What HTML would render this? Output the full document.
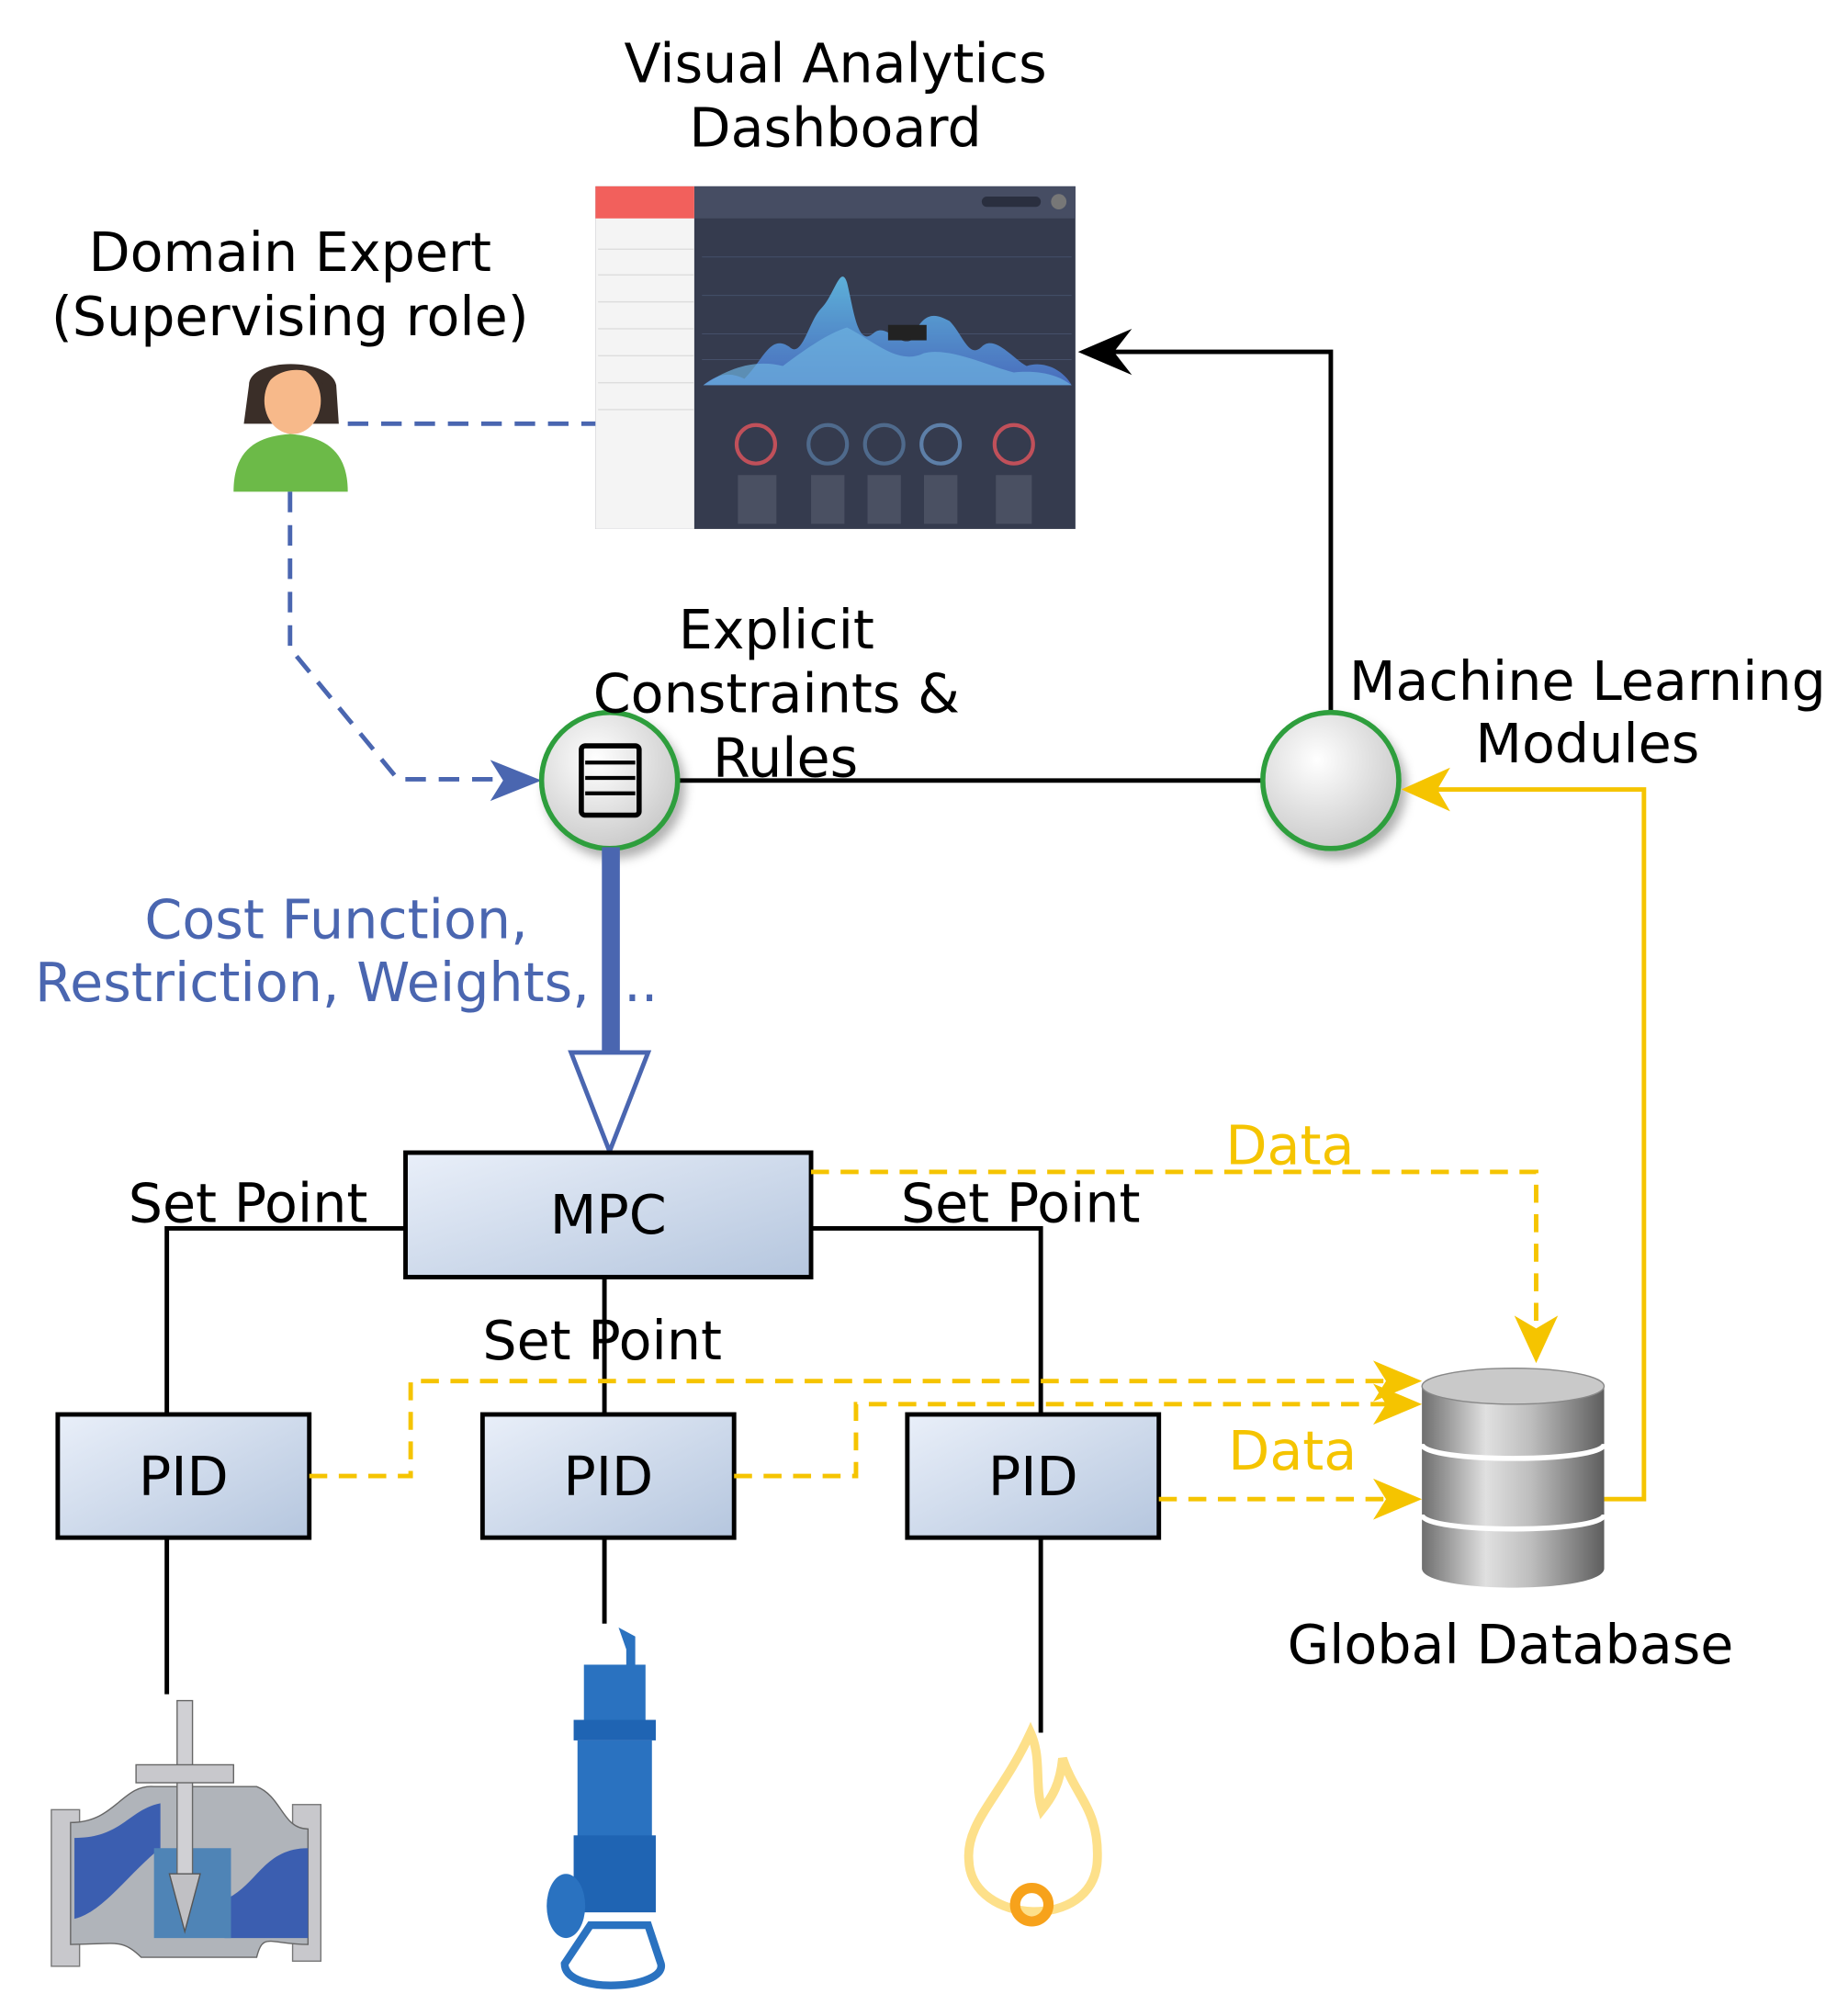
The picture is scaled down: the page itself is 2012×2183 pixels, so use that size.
<!DOCTYPE html>
<html><head><meta charset="utf-8"><style>
html,body{margin:0;padding:0;background:#fff;}
svg{display:block;}
text{font-family:"DejaVu Sans","Liberation Sans",sans-serif;}
</style></head><body>
<svg width="2012" height="2183" viewBox="0 0 1440 1562" xmlns="http://www.w3.org/2000/svg">
<defs>
<linearGradient id="box" x1="0" y1="0" x2="1" y2="1"><stop offset="0" stop-color="#e9eff9"/><stop offset="1" stop-color="#b5c6de"/></linearGradient>
<radialGradient id="circ" cx="0.4" cy="0.35" r="0.7"><stop offset="0" stop-color="#ffffff"/><stop offset="1" stop-color="#c8c8c8"/></radialGradient>
<linearGradient id="db" x1="0" y1="0" x2="1" y2="0"><stop offset="0" stop-color="#6e6e6e"/><stop offset="0.35" stop-color="#e0e0e0"/><stop offset="0.6" stop-color="#bdbdbd"/><stop offset="1" stop-color="#5e5e5e"/></linearGradient>
<linearGradient id="wave" x1="0" y1="0" x2="0" y2="1"><stop offset="0" stop-color="#5fb6e0"/><stop offset="1" stop-color="#4a6fc2"/></linearGradient>
<filter id="sh" x="-30%" y="-30%" width="160%" height="160%"><feDropShadow dx="4" dy="6" stdDeviation="4" flood-color="#000" flood-opacity="0.3"/></filter>
</defs>

<!-- dashboard -->
<rect x="464" y="145" width="374" height="267" fill="#353b4e"/>
<rect x="541" y="145" width="297" height="25" fill="#464d63"/>
<rect x="464" y="145" width="77" height="267" fill="#f4f4f4"/>
<rect x="464" y="145" width="77" height="25" fill="#f2605c"/>
<g stroke="#ddd" stroke-width="1">
<line x1="466" y1="194" x2="541" y2="194"/><line x1="466" y1="214" x2="541" y2="214"/><line x1="466" y1="235" x2="541" y2="235"/><line x1="466" y1="256" x2="541" y2="256"/><line x1="466" y1="277" x2="541" y2="277"/><line x1="466" y1="298" x2="541" y2="298"/><line x1="466" y1="319" x2="541" y2="319"/>
</g>
<rect x="765" y="153" width="46" height="8" rx="4" fill="#2a2f3f"/>
<circle cx="825" cy="157" r="6" fill="#777"/>
<g stroke="#45506a" stroke-width="0.7">
<line x1="547" y1="200" x2="835" y2="200"/><line x1="547" y1="230" x2="835" y2="230"/><line x1="547" y1="260" x2="835" y2="260"/><line x1="547" y1="280" x2="835" y2="280"/>
</g>
<path d="M548 300 C560 290,570 290,580 295 C595 280,600 260,615 270 C625 280,630 250,640 240 C650 230,655 205,660 220 C665 240,668 270,680 260 C690 250,700 270,710 265 C720 240,730 245,740 250 C750 260,755 280,765 270 C775 260,790 280,800 285 C815 280,830 290,835 300 Z" fill="url(#wave)" opacity="0.95"/>
<path d="M548 300 C570 285,590 280,610 285 C630 270,645 260,660 255 C680 265,700 285,720 275 C740 270,770 285,790 290 C810 288,825 292,835 300 Z" fill="#6db2df" opacity="0.7"/>
<rect x="692" y="253" width="30" height="12" fill="#222"/>
<g fill="none" stroke-width="3">
<circle cx="589" cy="346" r="15" stroke="#c0505a"/><circle cx="645" cy="346" r="15" stroke="#4f6a8c"/><circle cx="689" cy="346" r="15" stroke="#4f6a8c"/><circle cx="733" cy="346" r="15" stroke="#5d7fa8"/><circle cx="790" cy="346" r="15" stroke="#c0505a"/>
</g>
<g fill="#8a90a0"><rect x="575" y="370" width="30" height="38" opacity="0.25"/><rect x="632" y="370" width="26" height="38" opacity="0.25"/><rect x="676" y="370" width="26" height="38" opacity="0.25"/><rect x="720" y="370" width="26" height="38" opacity="0.25"/><rect x="776" y="370" width="28" height="38" opacity="0.25"/></g>

<!-- person -->
<path d="M182 383 C182 350,200 340,226 338 C252 340,271 350,271 383 Z" fill="#6cba48"/>
<path d="M194 300 C194 278,258 278,262 300 L264 330 L190 330 Z" fill="#3a2e28"/>
<ellipse cx="228" cy="312" rx="22" ry="26" fill="#f7b98a"/>
<path d="M206 305 C210 285,245 282,252 300 L250 292 C240 280,212 282,206 305Z" fill="#3a2e28"/>

<!-- blue dashed -->
<g fill="none" stroke="#4a66b0" stroke-width="3.5" stroke-dasharray="16,10">
<path d="M271 330 H464"/>
<path d="M226 383 V505 L310 607 H395"/>
</g>
<path d="M382 592 L422 608 L382 624 L392 608Z" fill="#4a66b0"/>

<!-- black connectors -->
<g fill="none" stroke="#000" stroke-width="3.5">
<path d="M528 608 H985"/>
<path d="M1037 555 V274 H860"/>
<path d="M316 957 H130 V1102"/>
<path d="M632 957 H811 V1102"/>
<path d="M471 995 V1102"/>
<path d="M130 1198 V1320"/>
<path d="M471 1198 V1265"/>
<path d="M811 1198 V1350"/>
</g>
<path d="M840 274 L882 256 L868 274 L882 292Z" fill="#000"/>

<!-- circles -->
<circle cx="475" cy="608" r="53" fill="url(#circ)" stroke="#2e9e3c" stroke-width="4" filter="url(#sh)"/>
<rect x="453" y="581" width="45" height="54" rx="3" fill="none" stroke="#000" stroke-width="4"/>
<g stroke="#000" stroke-width="3"><line x1="456" y1="594" x2="495" y2="594"/><line x1="456" y1="606" x2="495" y2="606"/><line x1="456" y1="618" x2="495" y2="618"/></g>
<circle cx="1037" cy="608" r="53" fill="url(#circ)" stroke="#2e9e3c" stroke-width="4" filter="url(#sh)"/>

<!-- thick blue arrow -->
<rect x="469" y="660" width="14" height="160" fill="#4a66b0"/>
<path d="M445 820 H505 L475 897Z" fill="#fff" stroke="#4a66b0" stroke-width="3.5"/>

<!-- boxes -->
<g stroke="#000" stroke-width="3.5" fill="url(#box)">
<rect x="316" y="898" width="316" height="97"/>
<rect x="45" y="1102" width="196" height="96"/>
<rect x="376" y="1102" width="196" height="96"/>
<rect x="707" y="1102" width="196" height="96"/>
</g>

<!-- yellow dashed -->
<g fill="none" stroke="#f5c400" stroke-width="3.5" stroke-dasharray="14,9">
<path d="M632 913 H1197 V1040"/>
<path d="M241 1150 H320 V1076 H1085"/>
<path d="M572 1150 H667 V1094 H1085"/>
<path d="M903 1168 H1085"/>
</g>
<g fill="none" stroke="#f5c400" stroke-width="3.5"><path d="M1250 1168 H1281 V615 H1115"/></g>
<g fill="#f5c400">
<path d="M1180 1025 L1197 1062 L1214 1025 L1197 1035Z"/>
<path d="M1070 1060 L1108 1076 L1070 1092 L1080 1076Z"/>
<path d="M1070 1078 L1108 1094 L1070 1110 L1080 1094Z"/>
<path d="M1070 1152 L1108 1168 L1070 1184 L1080 1168Z"/>
<path d="M1130 598 L1092 615 L1130 632 L1120 615Z"/>
</g>

<!-- database -->
<g>
<path d="M1108 1080 V1222 C1108 1242,1250 1242,1250 1222 V1080Z" fill="url(#db)"/>
<ellipse cx="1179" cy="1080" rx="71" ry="14" fill="#c9c9c9" stroke="#888"/>
<path d="M1108 1125 C1108 1140,1250 1140,1250 1125" fill="none" stroke="#fff" stroke-width="4"/>
<path d="M1108 1180 C1108 1195,1250 1195,1250 1180" fill="none" stroke="#fff" stroke-width="4"/>
</g>

<!-- valve -->
<g>
<rect x="40" y="1410" width="22" height="122" fill="#c8c8cc" stroke="#777"/>
<rect x="228" y="1406" width="22" height="122" fill="#c8c8cc" stroke="#777"/>
<path d="M55 1420 C90 1420,95 1390,120 1392 L200 1392 C220 1400,220 1425,240 1425 V1515 C210 1515,205 1505,200 1525 L110 1525 C95 1510,90 1515,55 1515Z" fill="#b0b4ba" stroke="#666"/>
<path d="M58 1432 C95 1432,100 1410,125 1405 V1440 C100 1460,80 1490,58 1495Z" fill="#3b5eb0"/>
<path d="M240 1440 C205 1440,200 1470,175 1480 V1510 H240Z" fill="#3b5eb0"/>
<path d="M120 1440 H180 V1510 H120Z" fill="#4f84b6"/>
<rect x="138" y="1325" width="12" height="140" fill="#d0d0d4" stroke="#666"/>
<rect x="106" y="1375" width="76" height="14" fill="#c8c8cc" stroke="#666"/>
<path d="M132 1460 H156 L144 1505Z" fill="#c0c0c4" stroke="#555"/>
</g>

<!-- pump -->
<g fill="#2a72c0">
<path d="M482 1268 L495 1275 V1300 H488 V1285Z"/>
<rect x="455" y="1297" width="48" height="45"/>
<rect x="447" y="1340" width="64" height="16" fill="#1f64b3"/>
<rect x="450" y="1356" width="58" height="80"/>
<rect x="447" y="1430" width="64" height="60" fill="#1f64b3"/>
<ellipse cx="441" cy="1485" rx="15" ry="25"/>
<path d="M460 1500 H505 L515 1530 C520 1550,440 1555,440 1530Z" fill="none" stroke="#2a72c0" stroke-width="6"/>
</g>

<!-- flame -->
<path d="M803 1350 C780 1400,752 1420,755 1450 C757 1500,852 1505,855 1450 C857 1410,838 1400,828 1370 C826 1390,820 1400,812 1410 C806 1390,812 1370,803 1350Z" fill="none" stroke="#fde08a" stroke-width="7"/>
<circle cx="804" cy="1484" r="13" fill="none" stroke="#f7a21b" stroke-width="8"/>

<!-- text on top -->
<g font-size="42" fill="#000" text-anchor="middle">
<text x="651" y="64">Visual Analytics</text>
<text x="651" y="114">Dashboard</text>
<text x="226" y="211">Domain Expert</text>
<text x="226" y="261">(Supervising role)</text>
<text x="605" y="505">Explicit</text>
<text x="605" y="555">Constraints &amp;</text>
<text x="612" y="605">Rules</text>
<text x="1237" y="545">Machine Learning</text>
<text x="1237" y="594">Modules</text>
<text x="1177" y="1296">Global Database</text>
<text x="474" y="961">MPC</text>
<text x="143" y="1165">PID</text>
<text x="474" y="1165">PID</text>
<text x="805" y="1165">PID</text>
</g>
<g font-size="42" fill="#000">
<text x="100" y="952">Set Point</text>
<text x="702" y="952">Set Point</text>
<text x="376" y="1059">Set Point</text>
</g>
<g font-size="42" fill="#4a66b0" text-anchor="middle">
<text x="262" y="731">Cost Function,</text>
<text x="270" y="780">Restriction, Weights, ...</text>
</g>
<g font-size="42" fill="#f5c400">
<text x="955" y="907">Data</text>
<text x="957" y="1145">Data</text>
</g>
</svg>
</body></html>
